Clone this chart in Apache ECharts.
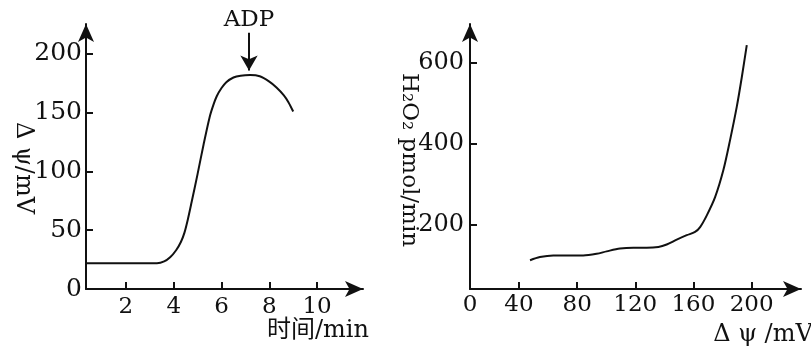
<!DOCTYPE html>
<html><head><meta charset="utf-8">
<script src="https://cdn.jsdelivr.net/npm/echarts@6/dist/echarts.min.js"></script>
<style>html,body{margin:0;padding:0;background:#fff}#c{width:811px;height:349px}</style>
</head><body><div id="c"></div>
<script>
// Left chart: membrane potential vs time
const timeMin = [0.33, 3.3, 3.6, 3.85, 4.1, 4.3, 4.45, 4.6, 4.75, 5.0, 5.25, 5.5, 5.65, 5.8, 6.0, 6.2, 6.5, 6.8, 7.2, 7.6, 8.0, 8.3, 8.6, 8.8, 9.0];
const deltaPsi = [22, 22, 23.5, 27, 33, 40, 48, 60, 74, 98, 123, 146, 156, 164, 171, 176, 180, 181.5, 182, 181, 176.5, 171.5, 165, 159, 151];
const leftXTicks = [2, 4, 6, 8, 10];
const leftYTicks = [0, 50, 100, 150, 200];
const adpTime = 7.15;
const adpArrow = [218, 186];

// Right chart: H2O2 production vs membrane potential
const psiMv = [47.6, 54.4, 63.6, 72.8, 84.2, 93.4, 100.3, 109.5, 118.7, 127.9, 135.9, 141.6, 148.5, 155.4, 161.1, 164.6, 169.2, 174.9, 180.6, 185.2, 189.8, 193.3, 196.7];
const h2o2 = [111, 119, 123, 123, 123, 127, 133, 140, 142, 142, 144, 150, 162, 173, 181, 193, 222, 267, 334, 408, 490, 564, 643];
const rightXTicks = [40, 80, 120, 160, 200];
const rightYTicks = [200, 400, 600];

const FONT = '"DejaVu Serif", "Noto Sans CJK SC", serif';
const BLACK = '#111';
const axisLine = { show: true, lineStyle: { color: BLACK, width: 2 }, symbol: ['none', 'arrow'], symbolSize: [12, 18] };
const tick = (vals) => ({ show: true, inside: true, length: 7, lineStyle: { color: BLACK, width: 2 }, customValues: vals });

const chart = echarts.init(document.getElementById('c'), null, { renderer: 'canvas' });
chart.setOption({
  animation: false,
  backgroundColor: '#fff',
  grid: [
    { left: 86, top: 24, width: 277, height: 265 },
    { left: 470, top: 24, width: 331, height: 265 }
  ],
  xAxis: [
    { gridIndex: 0, type: 'value', min: 0.33, max: 11.92, axisLine: axisLine, axisTick: tick(leftXTicks),
      splitLine: { show: false },
      axisLabel: { customValues: leftXTicks, margin: 7, color: BLACK, fontFamily: FONT, fontSize: 23 } },
    { gridIndex: 1, type: 'value', min: 6.3, max: 234, axisLine: axisLine, axisTick: tick(rightXTicks),
      splitLine: { show: false },
      axisLabel: { customValues: [6.3].concat(rightXTicks), margin: 5, color: BLACK, fontFamily: FONT, fontSize: 23,
        formatter: v => (v < 10 ? '0' : String(v)) } }
  ],
  yAxis: [
    { gridIndex: 0, type: 'value', min: 0, max: 225.5, axisLine: axisLine, axisTick: tick(leftYTicks.slice(1)),
      splitLine: { show: false },
      axisLabel: { customValues: leftYTicks, margin: 4, color: BLACK, fontFamily: FONT, fontSize: 25 } },
    { gridIndex: 1, type: 'value', min: 40, max: 695, axisLine: axisLine, axisTick: tick(rightYTicks),
      splitLine: { show: false },
      axisLabel: { customValues: rightYTicks, margin: 6, color: BLACK, fontFamily: FONT, fontSize: 24 } }
  ],
  series: [
    { type: 'line', xAxisIndex: 0, yAxisIndex: 0, smooth: 0.3, symbol: 'none',
      lineStyle: { color: BLACK, width: 2 },
      data: timeMin.map((t, i) => [t, deltaPsi[i]]),
      markLine: { silent: true, symbol: ['none', 'arrow'], symbolSize: [13, 15],
        lineStyle: { color: BLACK, width: 2, type: 'solid' },
        label: { show: true, position: 'start', formatter: 'ADP', color: BLACK, fontFamily: FONT, fontSize: 23, distance: 1 },
        data: [[{ coord: [adpTime, adpArrow[0]] }, { coord: [adpTime, adpArrow[1]] }]] } },
    { type: 'line', xAxisIndex: 1, yAxisIndex: 1, smooth: 0.3, symbol: 'none',
      lineStyle: { color: BLACK, width: 2 },
      data: psiMv.map((x, i) => [x, h2o2[i]]) }
  ],
  graphic: [
    { type: 'text', x: 23, y: 168, rotation: -Math.PI / 2,
      style: { text: 'Δ ψ/mV', fill: BLACK, font: '24px ' + FONT, align: 'center', verticalAlign: 'middle' } },
    { type: 'text', x: 318, y: 331,
      style: { text: '时间/min', fill: BLACK, font: '24px ' + FONT, align: 'center', verticalAlign: 'middle' } },
    { type: 'text', x: 409, y: 160, rotation: -Math.PI / 2,
      style: { text: 'H₂O₂ pmol/min', fill: BLACK, font: '23px ' + FONT, align: 'center', verticalAlign: 'middle' } },
    { type: 'text', x: 763, y: 335,
      style: { text: 'Δ ψ /mV', fill: BLACK, font: '24px ' + FONT, align: 'center', verticalAlign: 'middle' } }
  ]
});
</script></body></html>
